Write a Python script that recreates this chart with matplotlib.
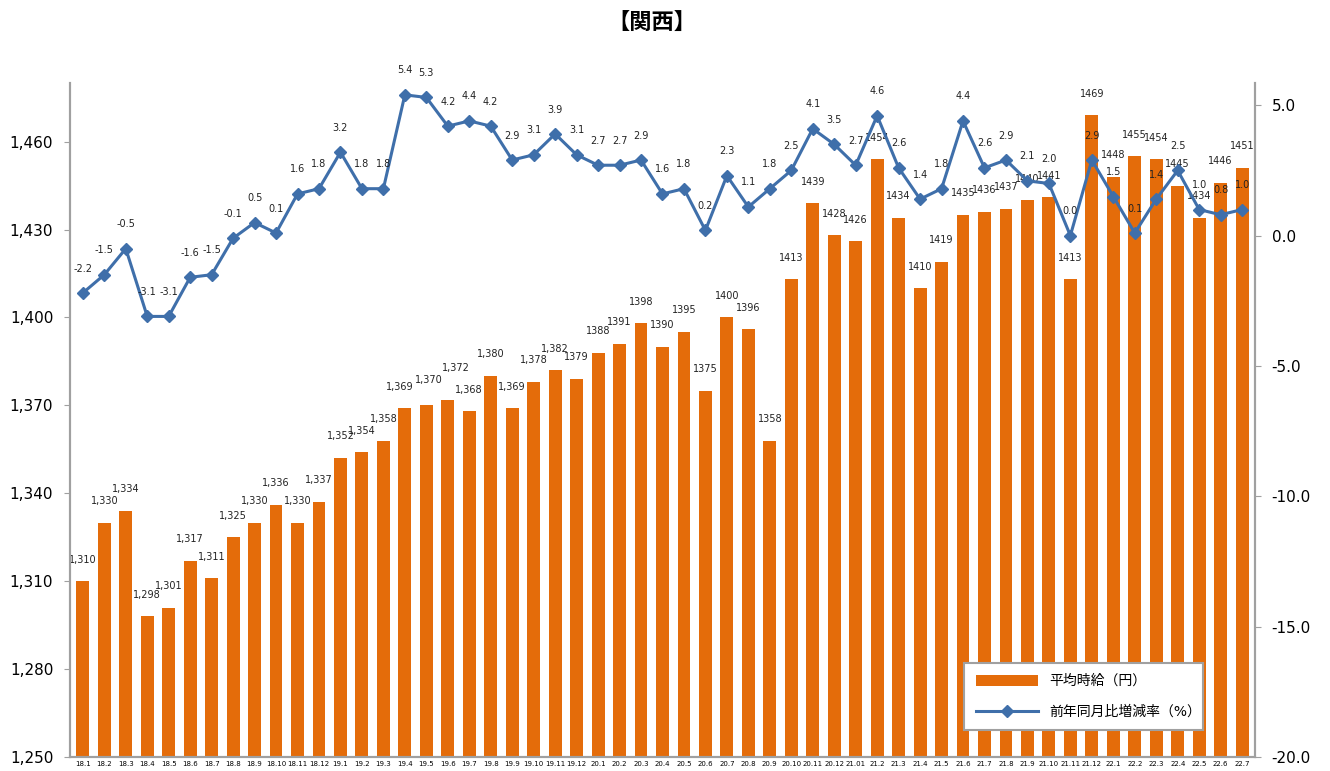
import numpy as np
import matplotlib
matplotlib.use("Agg")
import matplotlib.pyplot as plt
from matplotlib.ticker import FuncFormatter

plt.rcParams['font.family'] = ['DejaVu Sans', 'Noto Sans CJK JP']

# Months (year.month)
months = ["18.1", "18.2", "18.3", "18.4", "18.5", "18.6", "18.7", "18.8", "18.9", "18.10", "18.11", "18.12",
          "19.1", "19.2", "19.3", "19.4", "19.5", "19.6", "19.7", "19.8", "19.9", "19.10", "19.11", "19.12",
          "20.1", "20.2", "20.3", "20.4", "20.5", "20.6", "20.7", "20.8", "20.9", "20.10", "20.11", "20.12",
          "21.01", "21.2", "21.3", "21.4", "21.5", "21.6", "21.7", "21.8", "21.9", "21.10", "21.11", "21.12",
          "22.1", "22.2", "22.3", "22.4", "22.5", "22.6", "22.7"]

# Average hourly wage (yen)
wage = [1310, 1330, 1334, 1298, 1301, 1317, 1311, 1325, 1330, 1336, 1330, 1337,
        1352, 1354, 1358, 1369, 1370, 1372, 1368, 1380, 1369, 1378, 1382, 1379,
        1388, 1391, 1398, 1390, 1395, 1375, 1400, 1396, 1358, 1413, 1439, 1428,
        1426, 1454, 1434, 1410, 1419, 1435, 1436, 1437, 1440, 1441, 1413, 1469,
        1448, 1455, 1454, 1445, 1434, 1446, 1451]

# Year-on-year change (%)
yoy = [-2.2, -1.5, -0.5, -3.1, -3.1, -1.6, -1.5, -0.1, 0.5, 0.1, 1.6, 1.8,
       3.2, 1.8, 1.8, 5.4, 5.3, 4.2, 4.4, 4.2, 2.9, 3.1, 3.9, 3.1,
       2.7, 2.7, 2.9, 1.6, 1.8, 0.2, 2.3, 1.1, 1.8, 2.5, 4.1, 3.5,
       2.7, 4.6, 2.6, 1.4, 1.8, 4.4, 2.6, 2.9, 2.1, 2.0, 0.0, 2.9,
       1.5, 0.1, 1.4, 2.5, 1.0, 0.8, 1.0]

# first 23 bar labels use thousands separators
n_comma = 23

bar_color = "#E46C0A"
line_color = "#3F6FAA"
axis_gray = "#A0A0A0"

fig = plt.figure(figsize=(13.3, 7.71), dpi=100)
ax = fig.add_axes([0.0526, 0.0182, 0.891, 0.874])
ax2 = ax.twinx()

x = np.arange(len(months))
bars = ax.bar(x, wage, width=0.6, color=bar_color, zorder=2)
ax.set_ylim(1250, 1480)
ax.set_xlim(-0.6, len(months) - 0.4)
ax.set_yticks(np.arange(1250, 1461, 30))
ax.yaxis.set_major_formatter(FuncFormatter(lambda v, p: f"{int(v):,}"))
ax.set_xticks(x)
ax.set_xticklabels(months, fontsize=5)
ax.tick_params(axis='x', length=0, pad=3)
ax.tick_params(axis='y', labelsize=11, length=4, color=axis_gray, pad=8)

# small nudges where neighbouring labels crowd each other
nudge = {15: (-4, 12), 16: (2, 15), 17: (6, 19)}
for i, v in enumerate(wage):
    txt = f"{v:,}" if i < n_comma else f"{v}"
    ax.annotate(txt, (x[i], v), xytext=nudge.get(i, (0, 12)), textcoords="offset points",
                ha="center", va="bottom", fontsize=7, color="#222222")

line, = ax2.plot(x, yoy, color=line_color, lw=2.2, marker="D", markersize=6,
                 zorder=3)
ax2.set_ylim(-20, 5.85)
ax2.set_yticks(np.arange(-20, 5.1, 5))
ax2.yaxis.set_major_formatter(FuncFormatter(lambda v, p: f"{v:.1f}"))
ax2.tick_params(axis='y', labelsize=11, length=4, color=axis_gray, pad=8)

for i, v in enumerate(yoy):
    ax2.annotate(f"{v:.1f}", (x[i], v), xytext=(0, 14), textcoords="offset points",
                 ha="center", va="bottom", fontsize=7, color="#222222")

for a in (ax, ax2):
    a.spines['top'].set_visible(False)
    for s in ('left', 'right', 'bottom'):
        a.spines[s].set_color(axis_gray)
        a.spines[s].set_linewidth(1.5)

ax2.set_zorder(ax.get_zorder() + 1)
ax.patch.set_visible(False)

leg = ax2.legend([bars, line], ["平均時給（円）", "前年同月比増減率（%）"],
                 loc="lower left", bbox_to_anchor=(0.749, 0.03, 0.213, 0.11),
                 mode="expand", fontsize=10, frameon=True, fancybox=False,
                 framealpha=1, facecolor="white",
                 edgecolor=axis_gray, handlelength=4.5, borderpad=0.8,
                 labelspacing=1.2, handleheight=0.8)
leg.get_frame().set_linewidth(1.5)

fig.text(0.49, 0.97, "【関西】", ha="center", va="center", fontsize=16, fontweight="bold")

fig.savefig("out.png", dpi=100)
